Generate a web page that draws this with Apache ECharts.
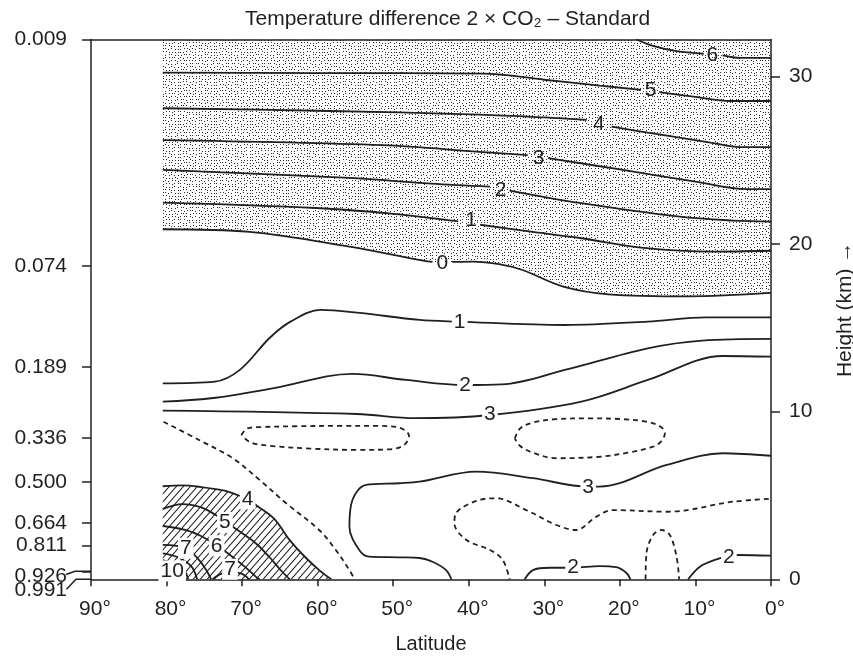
<!DOCTYPE html>
<html><head><meta charset="utf-8">
<script src="https://cdn.jsdelivr.net/npm/echarts@6/dist/echarts.min.js"></script>
<style>html,body{margin:0;padding:0;background:#fff}#c{width:853px;height:656px}</style>
</head><body><div id="c"></div>
<script>
// ---------- axis data ----------
const latMin = 0, latMax = 90, latStep = 10;
const heightMax = 32.2;
const heightTicks = [0, 10, 20, 30];
const sigmaLabels  = ['0.009', '0.074', '0.189', '0.336', '0.500', '0.664', '0.811', '0.926', '0.991'];
const sigmaHeights = [32.2, 18.7, 12.68, 8.43, 5.79, 3.36, 2.02, 0.48, 0];

// ---------- contours: [latitude (deg), height (km)], null = gap at label ----------
// stippled region (above the 0 contour)
const c6s = [[17.8,32.2],[15.5,31.8],[12.5,31.5],[8.9,31.35], null, [6.4,31.25],[4.1,31.1],[0,31.1]];
const c5s = [[80.5,30.23],[60,30.2],[38,30.17],[30,29.8],[22.7,29.45],[17.2,29.2], null, [14.8,29.06],[10,28.78],[5.4,28.53],[0,28.53]];
const c4s = [[80.5,28.1],[60,27.95],[38.6,27.72],[30,27.55],[24.4,27.4], null, [21.1,27.0],[15,26.55],[8,26.05],[4.1,25.78],[0,25.78]];
const c3s = [[80.5,26.2],[51.4,25.9],[38.6,25.5],[32.2,25.3], null, [29.5,25.12],[20,24.45],[10,23.72],[3.2,23.27],[0,23.27]];
const c2s = [[80.5,24.42],[55.8,23.94],[45,23.6],[37.2,23.42], null, [34.6,23.19],[25.3,22.45],[12.1,21.63],[5,21.4],[0,21.34]];
const c1s = [[80.5,22.47],[60.2,22.15],[50,21.8],[41.4,21.35], null, [38.5,21.15],[32,20.75],[25.3,20.36],[16.5,19.75],[7.7,19.55],[0,19.6]];
const c0  = [[80.5,20.88],[69,20.72],[55.8,19.84],[47,19.09],[44.8,18.93], null, [42.2,18.93],[39.4,18.95],[36,18.8],[32.9,18.45],[27.5,17.46],[21.5,17.0],[10.9,16.88],[0,17.08]];
// troposphere, solid
const c1t = [[80.5,11.69],[73.6,11.79],[70.3,12.49],[66.4,14.38],[63.6,15.37],[59.6,16.07],[54.8,15.91],[46.5,15.47],[41.4,15.37],[27.3,15.17],[16.3,15.37],[8.6,15.63],[0,15.63]];
const c2t = [[80.5,10.6],[74.1,10.8],[65.8,11.4],[55.4,12.25],[48.3,11.89],[40.6,11.59],[35.6,11.63],[27.3,12.49],[16.3,13.78],[9.1,14.24],[0,14.34]];
const c3t = [[80.5,10.06],[54.8,9.86],[47.1,9.61],[37.2,9.8],[25.1,10.6],[16.3,11.89],[6.4,13.32],[0,13.28]];
const c3low = [[42.3,0],[43.0,0.55],[44.8,1.05],[46.5,1.27],[49.2,1.31],[53.2,1.35],[54.5,1.75],[55.8,3.14],[55.4,4.73],[53.6,5.63],[49.2,5.73],[46.5,5.82],[39.0,6.42],[31.5,6.03],[24.3,5.53],[22.7,5.53],[13.8,6.82],[6.4,7.52],[0,7.37]];
const c2low = [[32.6,0],[31.5,0.55],[29.3,0.69],[26.2,0.69],[22.7,0.79],[20.45,0.72],[19.1,0.36],[18.6,0]];
const c2right = [[10.96,0],[9.41,0.75],[7.2,1.19],[5.66,1.35],[4.33,1.45],[0,1.41]];
// polar lower troposphere (hatched, >= 4)
const c4h = [[80.5,5.55],[77.9,5.6],[75.7,5.52],[72.5,5.3],[70.4,5.0],[69.3,4.8],[68.0,4.37],[65.75,3.6],[63.7,2.34],[61.8,1.39],[59.8,0.55],[58.2,0]];
const c5h = [[80.5,4.2],[77.9,4.49],[75.5,4.3],[73.5,3.84],[72.2,3.44],[70.8,3.0],[68.2,2.15],[66.4,1.33],[65,0.6],[63.7,0]];
const c6h = [[80.5,3.18],[77.45,2.94],[75.5,2.6],[73.3,2.0],[71.3,1.35],[69.5,0.7],[68.2,0.16],[67.7,0]];
const c7h = [[80.5,2.05],[77.45,1.85],[75.7,1.15],[74.6,0.44],[74.1,0]];
const c8h = [[80.5,1.55],[78.6,1.33],[76.75,0.79],[75.95,0]];
const c9h = [[80.5,1.15],[79,0.91],[77.55,0.44],[77.15,0]];
const c7arch = [[73.9,0],[72.8,0.32],[71.5,0.44],[70.0,0.32],[69.1,0]];
// dashed contours
const dDiag = [[80.4,9.4],[75.7,8.31],[71.3,7.24],[67.7,5.93],[64.2,4.55],[59.8,2.94],[57.6,1.75],[55.8,0.55],[55.1,0]];
const dLoop1 = [[70.1,8.6],[69.3,9.0],[67.5,9.08],[63,9.13],[57,9.15],[52,9.15],[49.2,9.05],[47.9,8.55],[48.6,8.0],[50.5,7.75],[55,7.72],[61,7.8],[66,7.95],[68.8,8.15],[70.1,8.6]];
const dLoop2 = [[33.9,8.4],[33.2,9.0],[31.5,9.35],[28.5,9.55],[24,9.6],[19.5,9.55],[16.5,9.4],[14.6,9.1],[14.05,8.7],[14.6,8.2],[15.6,7.91],[19,7.55],[22.7,7.31],[28.4,7.22],[31.5,7.55],[33.2,7.95],[33.9,8.4]];
const dLow = [[0.3,4.8],[5.0,4.63],[13.8,4.03],[20.9,4.13],[23.1,3.74],[25.8,2.94],[28.4,3.24],[32.4,4.13],[36.4,4.83],[38.6,4.73],[41.7,3.94],[41.9,3.34],[40.3,2.34],[37.2,1.75],[35.5,1.15],[34.6,0]];
const dArch = [[16.6,0],[16.48,1.55],[15.6,2.64],[14.49,2.94],[13.39,2.64],[12.5,1.35],[12.16,0]];

// ---------- contour labels ----------
const stippleLabelTexts  = ['6', '5', '4', '3', '2', '1', '0'];
const stippleLabelPoints = [[7.75,31.28],[15.93,29.15],[22.8,27.12],[30.75,25.12],[35.8,23.23],[39.7,21.4],[43.5,18.85]];
const plainLabelTexts  = ['1', '2', '3', '3', '2', '2', '4', '5', '6', '7', '10', '7'];
const plainLabelPoints = [[41.2,15.32],[40.5,11.55],[37.2,9.86],[24.2,5.52],[26.2,0.70],[5.57,1.33],[69.26,4.8],[72.27,3.39],[73.37,2.0],[77.45,1.85],[79.25,0.5],[71.6,0.6]];

// ---------- styling ----------
const INK = '#231f20';
const FONT = '"Liberation Sans", Arial, Helvetica, sans-serif';
const FS = 21;

function makeStipple() {
  const n = 12, s = 3;
  const c = document.createElement('canvas'); c.width = n * s; c.height = n * s;
  const g = c.getContext('2d'); g.fillStyle = '#2a2a2a';
  for (let i = 0; i < n; i++) for (let j = 0; j < n; j++) {
    const a = Math.sin(i * 12.9898 + j * 78.233) * 43758.5453; const fa = a - Math.floor(a);
    const b = Math.sin(i * 39.346 + j * 11.135) * 24634.6345; const fb = b - Math.floor(b);
    g.fillRect(i * s + Math.floor(fa * 2), j * s + Math.floor(fb * 2), 1, 1);
  }
  return c;
}
function makeHatch() {
  const w = 7, h = 8;
  const c = document.createElement('canvas'); c.width = w; c.height = h;
  const g = c.getContext('2d'); g.strokeStyle = INK; g.lineWidth = 1.1;
  for (const k of [-1, 0, 1]) { g.beginPath(); g.moveTo(k * w, h); g.lineTo(k * w + w, 0); g.stroke(); }
  return c;
}

function splitSegs(pts) {
  const segs = []; let cur = [];
  pts.forEach(p => { if (p === null) { if (cur.length) segs.push(cur); cur = []; } else cur.push(p); });
  if (cur.length) segs.push(cur);
  return segs;
}
const SMOOTH = 0.35;
function contourSeries(pts, dashed) {
  return splitSegs(pts).map(seg => ({
    type: 'line', data: seg, symbol: 'none', smooth: SMOOTH, silent: true, z: 4,
    lineStyle: { color: INK, width: 1.8, type: dashed ? [5, 4] : 'solid' }
  }));
}
function labelSeries(texts, points, white) {
  return {
    type: 'custom', data: points, z: 10, silent: true,
    renderItem: (params, api) => {
      const p = api.coord([api.value(0), api.value(1)]);
      return { type: 'text', x: p[0], y: p[1], z2: 10,
        style: { text: texts[params.dataIndex], fill: INK, font: FS + 'px ' + FONT,
          align: 'center', verticalAlign: 'middle',
          backgroundColor: white ? '#fff' : 'transparent', padding: [0, 2] } };
    }
  };
}

const series = [];
series.push({ type: 'line', data: c0.filter(p => p), symbol: 'none', smooth: SMOOTH, silent: true, z: 1,
  lineStyle: { width: 0 }, areaStyle: { origin: 'end', opacity: 1, color: { image: makeStipple(), repeat: 'repeat' } } });
series.push({ type: 'line', data: c4h, symbol: 'none', smooth: SMOOTH, silent: true, z: 1,
  lineStyle: { width: 0 }, areaStyle: { origin: 'start', opacity: 1, color: { image: makeHatch(), repeat: 'repeat' } } });
[c6s, c5s, c4s, c3s, c2s, c1s, c0, c1t, c2t, c3t, c3low, c2low, c2right, c4h, c5h, c6h, c7h, c8h, c9h, c7arch]
  .forEach(c => series.push(...contourSeries(c, false)));
[dDiag, dLoop1, dLoop2, dLow, dArch].forEach(c => series.push(...contourSeries(c, true)));
series.push(labelSeries(stippleLabelTexts, stippleLabelPoints, false));
series.push(labelSeries(plainLabelTexts, plainLabelPoints, true));

function sigmaText(v) {
  let k = 0; sigmaHeights.forEach((h, i) => { if (Math.abs(h - v) < Math.abs(sigmaHeights[k] - v)) k = i; });
  return sigmaLabels[k];
}
const axisLine = { show: true, onZero: false, lineStyle: { color: INK, width: 1.5 } };
const tickStyle = { color: INK, width: 1.5 };
const chart = echarts.init(document.getElementById('c'));
chart.setOption({
  animation: false,
  backgroundColor: '#fff',
  textStyle: { fontFamily: FONT },
  title: { text: 'Temperature difference 2 × CO₂ – Standard', left: 240, top: 4,
    textStyle: { fontSize: FS, fontWeight: 'normal', color: INK, fontFamily: FONT } },
  grid: { left: 91, right: 82, top: 39.5, bottom: 76.7, containLabel: false, outerBoundsMode: 'none' },
  xAxis: [
    { type: 'value', min: latMin, max: latMax, interval: latStep, inverse: true, position: 'bottom',
      axisLine: axisLine, splitLine: { show: false },
      axisTick: { show: true, length: 7, lineStyle: tickStyle },
      axisLabel: { formatter: v => v + '°', fontSize: FS, color: INK, margin: 19, padding: [0, 0, 0, 8] },
      name: 'Latitude', nameLocation: 'middle', nameGap: 55,
      nameTextStyle: { fontSize: 20, color: INK } },
    { type: 'value', min: latMin, max: latMax, inverse: true, position: 'top',
      axisLine: axisLine, axisTick: { show: false }, axisLabel: { show: false }, splitLine: { show: false } }
  ],
  yAxis: [
    { type: 'value', min: 0, max: heightMax, position: 'left', axisLine: axisLine, splitLine: { show: false },
      axisTick: { show: true, length: 9, lineStyle: tickStyle, customValues: sigmaHeights.slice(0, 8) },
      axisLabel: { customValues: sigmaHeights.slice(0, 8), margin: 24, color: INK, fontSize: FS,
        showMinLabel: true, showMaxLabel: true, hideOverlap: false,
        formatter: v => { const t = sigmaText(v); return t === '0.926' ? '{mid|' + t + '}' : '{n|' + t + '}'; },
        rich: { n: { fontSize: FS, color: INK }, mid: { fontSize: FS, color: INK, padding: [10, 0, 0, 0] } } } },
    { type: 'value', min: 0, max: heightMax, position: 'right', axisLine: axisLine, splitLine: { show: false },
      axisTick: { show: true, length: 9, lineStyle: tickStyle, customValues: heightTicks },
      axisLabel: { customValues: heightTicks, margin: 18, color: INK, fontSize: FS, showMinLabel: true },
      name: 'Height (km) →', nameLocation: 'middle', nameRotate: 90, nameGap: 64,
      nameTextStyle: { fontSize: FS, color: INK } },
    { type: 'value', min: 0, max: heightMax, position: 'left', axisLine: { show: false }, axisTick: { show: false },
      splitLine: { show: false },
      axisLabel: { customValues: sigmaHeights.slice(8), margin: 24, color: INK, fontSize: FS, showMinLabel: true,
        formatter: v => '{lo|' + sigmaText(v) + '}',
        rich: { lo: { fontSize: FS, color: INK, padding: [22, 0, 0, 0] } } } }
  ],
  series: series
});

// axis break marks next to the two lowest sigma labels
const x90 = chart.convertToPixel({ xAxisIndex: 0 }, latMax);
const y926 = chart.convertToPixel({ yAxisIndex: 0 }, sigmaHeights[7]);
const y0 = chart.convertToPixel({ yAxisIndex: 0 }, 0);
const brk = { stroke: INK, lineWidth: 1.5, fill: null };
chart.setOption({ graphic: [
  { type: 'polyline', shape: { points: [[x90 - 25, y926 + 3.3], [x90 - 16, y926], [x90, y926]] }, style: brk, silent: true },
  { type: 'polyline', shape: { points: [[x90 - 24.5, y0 + 10], [x90 - 15, y0], [x90, y0]] }, style: brk, silent: true }
] });
</script>
</body></html>
